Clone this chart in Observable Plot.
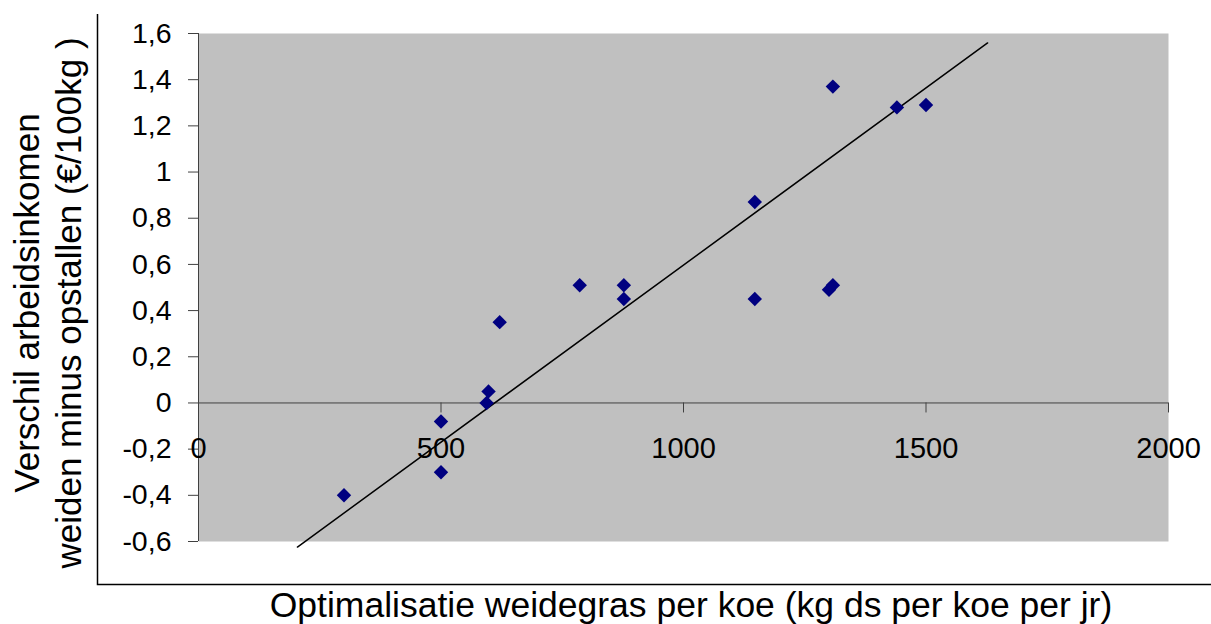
<!DOCTYPE html>
<html>
<head>
<meta charset="utf-8">
<script src="https://cdn.jsdelivr.net/npm/d3@7"></script>
<script src="https://cdn.jsdelivr.net/npm/@observablehq/plot@0.6"></script>
<style>
  html, body { margin: 0; padding: 0; background: #fff; }
  #chart { position: relative; width: 1211px; height: 624px; }
</style>
</head>
<body>
<div id="chart"></div>
<script>
// Data
const weidegras = [300, 500, 500, 594, 598, 621, 786, 877, 877, 1147, 1147, 1300, 1308, 1308, 1440, 1500];
const verschil  = [-0.40, -0.08, -0.30, 0.00, 0.05, 0.35, 0.51, 0.51, 0.45, 0.87, 0.45, 0.49, 0.51, 1.37, 1.28, 1.29];
const trendX = [204, 1627];
const trendY = [-0.624, 1.559];
const xTicks = [0, 500, 1000, 1500, 2000];
const yTicks = [-0.6, -0.4, -0.2, 0, 0.2, 0.4, 0.6, 0.8, 1, 1.2, 1.4, 1.6];
const xTitle = "Optimalisatie weidegras per koe (kg ds per koe per jr)";
const yTitleLines = ["Verschil arbeidsinkomen", "weiden minus opstallen (€/100kg )"];

const points = weidegras.map((x, i) => ({x, y: verschil[i]}));
const trend = trendX.map((x, i) => ({x, y: trendY[i]}));
const fmt = d => String(+d.toFixed(1)).replace(".", ",");
const font = "'Liberation Sans', Arial, sans-serif";

const svg = Plot.plot({
  width: 1211,
  height: 624,
  marginLeft: 198,
  marginRight: 43,
  marginTop: 33,
  marginBottom: 83,
  style: {fontFamily: font, color: "black", background: "white", overflow: "visible"},
  x: {domain: [0, 2000], axis: null},
  y: {domain: [-0.6, 1.6], axis: null},
  marks: [
    Plot.frame({fill: "#c0c0c0", stroke: "none"}),
    Plot.ruleY([0], {stroke: "#404040", strokeWidth: 1}),
    Plot.ruleX(xTicks, {x: d => d, y1: 0, y2: 0, insetBottom: -10, stroke: "#404040"}),
    Plot.ruleX([0], {stroke: "#404040", strokeWidth: 1}),
    Plot.axisY(yTicks, {anchor: "left", tickSize: 10, tickPadding: 17, tickFormat: fmt, fontSize: 28.5, stroke: "#404040", fill: "black", label: null}),
    Plot.text(xTicks, {x: d => d, y: 0, dy: 46, text: d => String(d), fontSize: 29, fill: "black"}),
    Plot.line(trend, {x: "x", y: "y", stroke: "black", strokeWidth: 1.5}),
    Plot.dot(points, {x: "x", y: "y", symbol: "diamond2", r: 6.5, fill: "#000080", stroke: "none"})
  ]
});

const s = d3.select(svg);
// chart-area border (left and bottom)
s.append("path")
  .attr("d", "M97.5,14V584.5H1211")
  .attr("fill", "none")
  .attr("stroke", "black")
  .attr("stroke-width", 1.5);
// x title
s.append("text")
  .attr("x", 691).attr("y", 617)
  .attr("text-anchor", "middle")
  .attr("font-family", font)
  .attr("font-size", 35.5)
  .attr("fill", "black")
  .text(xTitle);
// y title
const yt = s.append("text")
  .attr("transform", "translate(39,303) rotate(-90)")
  .attr("text-anchor", "middle")
  .attr("font-family", font)
  .attr("font-size", 35)
  .attr("fill", "black")
  .attr("xml:space", "preserve")
  .style("white-space", "pre");
yTitleLines.forEach((t, i) => {
  yt.append("tspan").attr("x", 0).attr("dy", i === 0 ? 0 : 42).text(t);
});

document.getElementById("chart").appendChild(svg);
</script>
</body>
</html>
